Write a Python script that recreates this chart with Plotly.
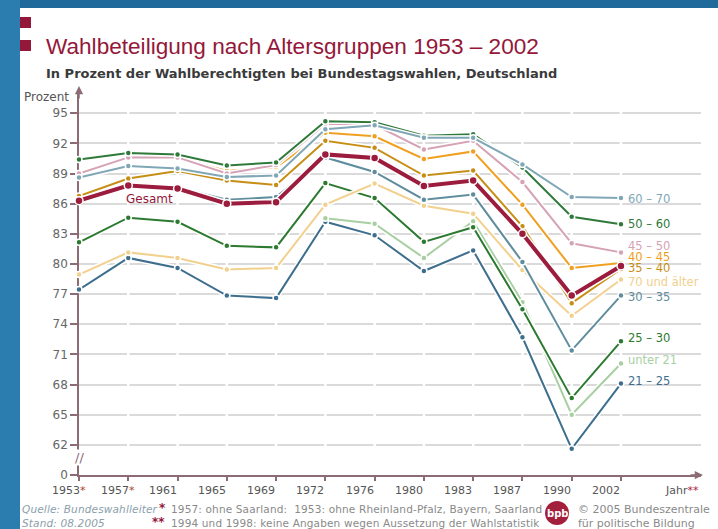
import plotly.graph_objects as go

# ---------------- data ----------------
years = ["1953", "1957", "1961", "1965", "1969", "1972", "1976", "1980", "1983", "1987", "1990", "2002"]
year_marks = ["*", "*", "", "", "", "", "", "", "", "", "", ""]

g21_25 = [77.45, 80.6, 79.6, 76.85, 76.6, 84.2, 82.85, 79.3, 81.35, 72.7, 61.6, 68.1]
gu21 = [None, None, None, None, None, 84.55, 84.0, 80.6, 84.25, 76.2, 65.0, 70.1]
g25_30 = [82.15, 84.6, 84.2, 81.8, 81.65, 88.05, 86.55, 82.2, 83.65, 75.5, 66.65, 72.3]
g70 = [78.95, 81.15, 80.6, 79.45, 79.6, 85.9, 88.0, 85.8, 85.0, 79.4, 74.85, 78.45]
g30_35 = [86.4, 87.9, 87.6, 86.4, 86.65, 90.6, 89.15, 86.4, 86.9, 80.2, 71.4, 76.85]
g35_40 = [86.75, 88.5, 89.25, 88.3, 87.85, 92.25, 91.55, 88.8, 89.3, 83.75, 76.1, 79.5]
g40_45 = [88.95, 90.55, 90.55, 89.25, 89.65, 93.05, 92.7, 90.45, 91.2, 85.9, 79.6, 80.1]
g45_50 = [89.0, 90.6, 90.6, 89.0, 89.85, 93.95, 93.85, 91.4, 92.25, 88.15, 82.05, 81.15]
g50_60 = [90.4, 91.05, 90.9, 89.8, 90.1, 94.2, 94.1, 92.75, 92.9, 89.6, 84.7, 83.95]
g60_70 = [88.6, 89.75, 89.5, 88.65, 88.8, 93.4, 93.8, 92.55, 92.55, 89.9, 86.65, 86.55]
gesamt = [86.3, 87.8, 87.5, 86.0, 86.15, 90.9, 90.55, 87.75, 88.3, 83.0, 76.85, 79.8]

series_names = ["21 – 25", "unter 21", "25 – 30", "70 und älter", "30 – 35", "35 – 40",
                "40 – 45", "45 – 50", "50 – 60", "60 – 70", "Gesamt"]
series_values = [g21_25, gu21, g25_30, g70, g30_35, g35_40, g40_45, g45_50, g50_60, g60_70, gesamt]

y_tick_vals = [59, 62, 65, 68, 71, 74, 77, 80, 83, 86, 89, 92, 95]
y_tick_text = ["0", "62", "65", "68", "71", "74", "77", "80", "83", "86", "89", "92", "95"]

# ---------------- styles ----------------
series_colors = ["#3e6e8e", "#a8cfa2", "#2c7a30", "#f2d08e", "#5f8d9d", "#c68e14",
                 "#f0a021", "#d6a2b6", "#2f7a3b", "#80a7b6", "#9b1c3c"]
series_widths = [2, 2, 2, 2, 2, 2, 2, 2, 2, 2, 4]
label_y = [68.33, 70.42, 72.61, 78.18, 76.69, 79.6, 80.7, 81.8, 83.95, 86.44, None]

W, H = 718, 529
L, R, T, B = 79, 17, 92, 54
PW, PH = W - L - R, H - T - B
PX_PER_UNIT = 10.05
PX_PER_CAT = 49.27
MAUVE = "#8c6b74"
CRIMSON = "#94183a"
Y_TOP = 59 + PH / PX_PER_UNIT


def px(x):
    return (x - L) / PW


def py(y):
    return (H - B - y) / PH


def spaced(s, sp=0.2):
    return f"<span style='letter-spacing:{sp}px'>{s}</span>"


xs = list(range(len(years)))
fig = go.Figure()

for name, vals, col, w in zip(series_names, series_values, series_colors, series_widths):
    fig.add_trace(go.Scatter(x=xs, y=vals, mode="lines", line=dict(color="white", width=w + 3),
                             hoverinfo="skip", showlegend=False, cliponaxis=False))
    fig.add_trace(go.Scatter(x=xs, y=vals, mode="lines+markers", name=name,
                             line=dict(color=col, width=w),
                             marker=dict(color=col, size=w + 4, line=dict(color="white", width=1.5)),
                             showlegend=False, cliponaxis=False))

annotations = []
# series labels at the right end
for name, col, ly in zip(series_names, series_colors, label_y):
    if ly is None:
        continue
    annotations.append(dict(x=len(years) - 1, y=ly, xref="x", yref="y", text=name, showarrow=False,
                            xanchor="left", yanchor="middle", xshift=5,
                            font=dict(family="DejaVu Sans", size=11.5, color=col)))
annotations.append(dict(x=1.44, y=86.44, xref="x", yref="y", text="Gesamt", showarrow=False,
                        xanchor="center", yanchor="middle",
                        font=dict(family="DejaVu Sans", size=12, color=CRIMSON)))

# x tick labels (right-aligned at the tick)
for i, (yr, mk) in enumerate(zip(years, year_marks)):
    txt = yr + (f"<span style='color:#b0402a'>{mk}</span>" if mk else "")
    annotations.append(dict(x=i, y=py(490), xref="x", yref="paper", text=txt, showarrow=False,
                            xanchor="right", yanchor="middle", xshift=(9 if mk else 1),
                            font=dict(family="DejaVu Sans", size=11, color="#555555")))
annotations.append(dict(x=px(701), y=py(490), xref="paper", yref="paper",
                        text="Jahr<span style='color:#b0203c'>**</span>", showarrow=False,
                        xanchor="right", yanchor="middle",
                        font=dict(family="DejaVu Sans", size=11, color="#555555")))
annotations.append(dict(x=px(71), y=py(97), xref="paper", yref="paper", text="Prozent", showarrow=False,
                        xanchor="right", yanchor="middle",
                        font=dict(family="DejaVu Sans", size=12, color="#555555")))

# titles
annotations.append(dict(x=px(44), y=py(47), xref="paper", yref="paper",
                        text="Wahlbeteiligung nach Altersgruppen 1953 – 2002", showarrow=False,
                        xanchor="left", yanchor="middle",
                        font=dict(family="Liberation Sans, Arial", size=22.6, color=CRIMSON)))
annotations.append(dict(x=px(44), y=py(73), xref="paper", yref="paper",
                        text="<b>In Prozent der Wahlberechtigten bei Bundestagswahlen, Deutschland</b>",
                        showarrow=False, xanchor="left", yanchor="middle",
                        font=dict(family="DejaVu Sans", size=13, color="#3a3a3a")))

# axis arrows
annotations.append(dict(x=px(79), y=py(86), xref="paper", yref="paper", text="", showarrow=True,
                        ax=0, ay=14, arrowhead=2, arrowsize=1.1, arrowwidth=1.5, arrowcolor=MAUVE))
annotations.append(dict(x=px(703), y=py(475), xref="paper", yref="paper", text="", showarrow=True,
                        ax=-14, ay=0, arrowhead=2, arrowsize=1.1, arrowwidth=1.5, arrowcolor=MAUVE))
# axis break
annotations.append(dict(x=px(79), y=py(457), xref="paper", yref="paper", text="//", showarrow=False,
                        xanchor="center", yanchor="middle", bgcolor="white", borderpad=0,
                        font=dict(family="DejaVu Sans", size=13, color=MAUVE)))

# footer
foot_font = dict(family="DejaVu Sans", size=10.5, color="#8a8a8a")
ital_font = dict(family="DejaVu Sans", size=10.5, color="#8a9eab")
annotations += [
    dict(x=px(20), y=py(509), xref="paper", yref="paper", text="<i>" + spaced("Quelle: Bundeswahlleiter", 0.15) + "</i>",
         showarrow=False, xanchor="left", yanchor="middle", font=ital_font),
    dict(x=px(20), y=py(523), xref="paper", yref="paper", text="<i>" + spaced("Stand: 08.2005", 0.15) + "</i>",
         showarrow=False, xanchor="left", yanchor="middle", font=ital_font),
    dict(x=px(168), y=py(508), xref="paper", yref="paper", text="<b>*</b>", showarrow=False,
         xanchor="right", yanchor="middle", font=dict(family="DejaVu Sans", size=12, color=CRIMSON)),
    dict(x=px(167), y=py(522), xref="paper", yref="paper", text="<b>**</b>", showarrow=False,
         xanchor="right", yanchor="middle", font=dict(family="DejaVu Sans", size=12, color=CRIMSON)),
    dict(x=px(169), y=py(509), xref="paper", yref="paper",
         text=spaced("1957: ohne Saarland:  1953: ohne Rheinland-Pfalz, Bayern, Saarland", 0.15),
         showarrow=False, xanchor="left", yanchor="middle", font=foot_font),
    dict(x=px(169), y=py(523), xref="paper", yref="paper",
         text=spaced("1994 und 1998: keine Angaben wegen Aussetzung der Wahlstatistik", 0.15),
         showarrow=False, xanchor="left", yanchor="middle", font=foot_font),
    dict(x=px(557), y=py(513), xref="paper", yref="paper", text="<b>bpb</b>", showarrow=False,
         xanchor="center", yanchor="middle", font=dict(family="DejaVu Sans", size=10, color="white")),
    dict(x=px(576), y=py(509), xref="paper", yref="paper", text="© 2005 Bundeszentrale",
         showarrow=False, xanchor="left", yanchor="middle",
         font=dict(family="DejaVu Sans", size=11, color="#8a8a8a")),
    dict(x=px(576), y=py(523), xref="paper", yref="paper", text="für politische Bildung",
         showarrow=False, xanchor="left", yanchor="middle",
         font=dict(family="DejaVu Sans", size=11, color="#8a8a8a")),
]

shapes = [
    dict(type="rect", xref="paper", yref="paper", x0=px(0), x1=px(W), y0=py(8), y1=py(0),
         fillcolor="#20699b", line=dict(width=0), layer="below"),
    dict(type="rect", xref="paper", yref="paper", x0=px(0), x1=px(20), y0=py(H), y1=py(0),
         fillcolor="#2b7db0", line=dict(width=0), layer="below"),
    dict(type="rect", xref="paper", yref="paper", x0=px(20), x1=px(31), y0=py(28), y1=py(17),
         fillcolor=CRIMSON, line=dict(width=0), layer="below"),
    dict(type="rect", xref="paper", yref="paper", x0=px(20), x1=px(31), y0=py(51), y1=py(40),
         fillcolor=CRIMSON, line=dict(width=0), layer="below"),
    dict(type="circle", xref="paper", yref="paper", x0=px(545), x1=px(569), y0=py(525), y1=py(501),
         fillcolor="#a3203c", line=dict(width=0), layer="above"),
]
# small white breaks in the horizontal gridlines at every election year
for i in xs[1:]:
    shapes.append(dict(type="line", xref="x", yref="y", x0=i, x1=i, y0=60, y1=Y_TOP,
                       line=dict(color="white", width=2.5), layer="between"))

fig.update_layout(
    width=W, height=H,
    margin=dict(l=L, r=R, t=T, b=B, autoexpand=False),
    paper_bgcolor="white", plot_bgcolor="white",
    showlegend=False,
    annotations=annotations,
    shapes=shapes,
    xaxis=dict(range=[0, PW / PX_PER_CAT], tickvals=xs, showticklabels=False,
               ticks="outside", ticklen=4, tickwidth=1.5, tickcolor=MAUVE,
               showline=True, linecolor=MAUVE, linewidth=1.5, showgrid=False, zeroline=False,
               layer="below traces", fixedrange=True),
    yaxis=dict(range=[59, Y_TOP], tickvals=y_tick_vals, ticktext=y_tick_text,
               ticks="outside", ticklen=7, tickwidth=1.5, tickcolor=MAUVE,
               tickfont=dict(family="DejaVu Sans", size=12, color="#666666"),
               showline=True, linecolor=MAUVE, linewidth=1.5,
               showgrid=True, gridcolor="#dadada", gridwidth=1.5, zeroline=False,
               layer="below traces", fixedrange=True),
)

fig.write_html("out.html", config={"displayModeBar": False},
               post_script="document.body.style.margin='0px';document.body.style.padding='0px';")
